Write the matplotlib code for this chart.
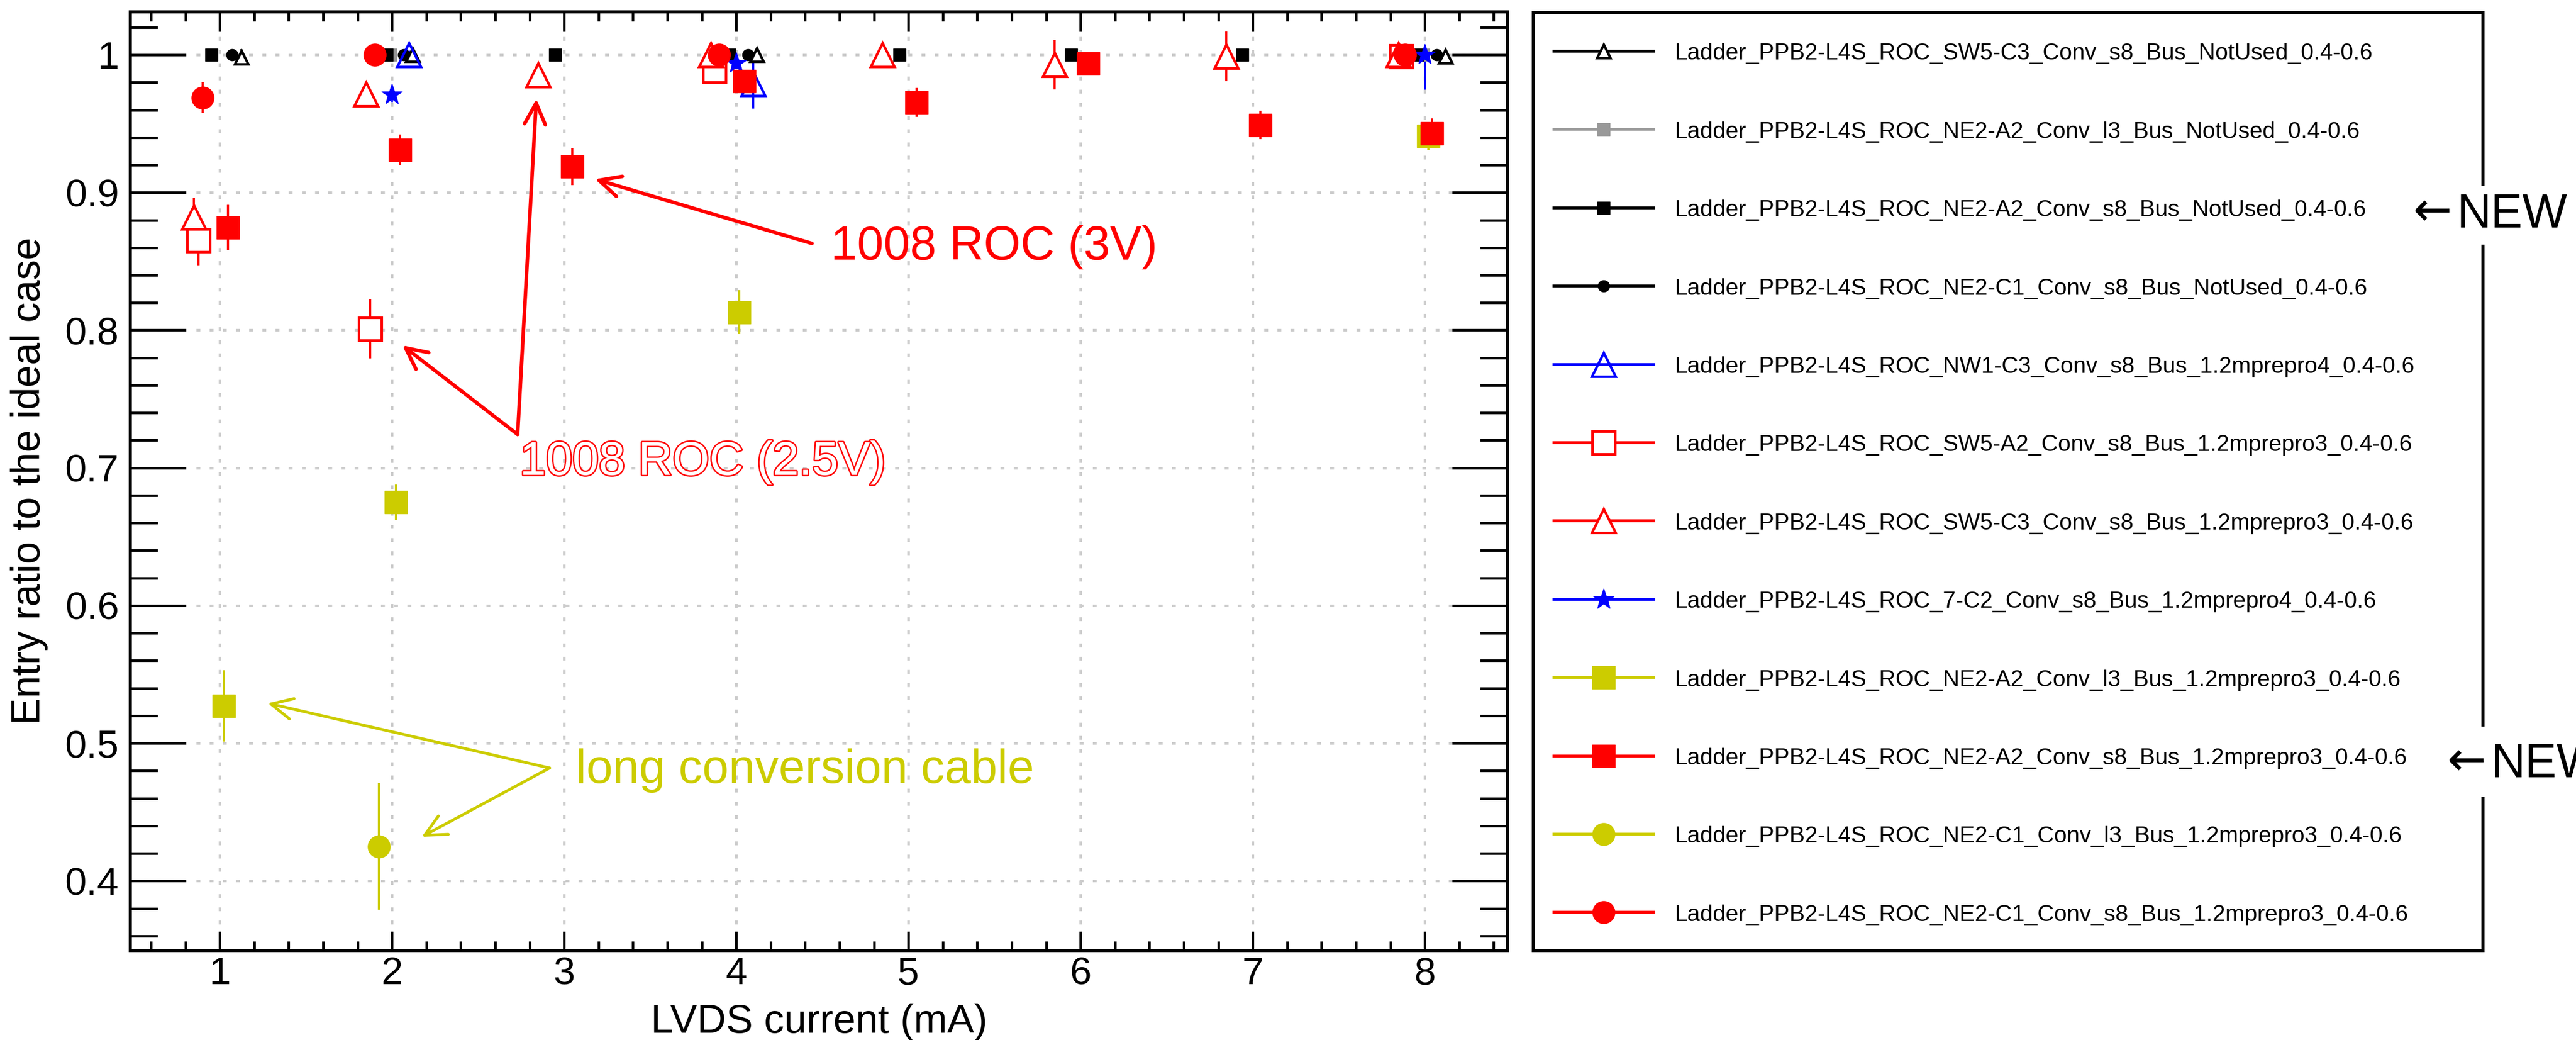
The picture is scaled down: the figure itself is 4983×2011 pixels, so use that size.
import matplotlib
matplotlib.use("Agg")
import matplotlib.pyplot as plt
import matplotlib.patheffects as pe
from matplotlib.ticker import MultipleLocator, FixedLocator, FixedFormatter

plt.rcParams['font.family'] = ['Liberation Sans', 'DejaVu Sans']

W, H = 4983, 2011

# ---- data ----
labels = [
    "Ladder_PPB2-L4S_ROC_SW5-C3_Conv_s8_Bus_NotUsed_0.4-0.6",
    "Ladder_PPB2-L4S_ROC_NE2-A2_Conv_l3_Bus_NotUsed_0.4-0.6",
    "Ladder_PPB2-L4S_ROC_NE2-A2_Conv_s8_Bus_NotUsed_0.4-0.6",
    "Ladder_PPB2-L4S_ROC_NE2-C1_Conv_s8_Bus_NotUsed_0.4-0.6",
    "Ladder_PPB2-L4S_ROC_NW1-C3_Conv_s8_Bus_1.2mprepro4_0.4-0.6",
    "Ladder_PPB2-L4S_ROC_SW5-A2_Conv_s8_Bus_1.2mprepro3_0.4-0.6",
    "Ladder_PPB2-L4S_ROC_SW5-C3_Conv_s8_Bus_1.2mprepro3_0.4-0.6",
    "Ladder_PPB2-L4S_ROC_7-C2_Conv_s8_Bus_1.2mprepro4_0.4-0.6",
    "Ladder_PPB2-L4S_ROC_NE2-A2_Conv_l3_Bus_1.2mprepro3_0.4-0.6",
    "Ladder_PPB2-L4S_ROC_NE2-A2_Conv_s8_Bus_1.2mprepro3_0.4-0.6",
    "Ladder_PPB2-L4S_ROC_NE2-C1_Conv_l3_Bus_1.2mprepro3_0.4-0.6",
    "Ladder_PPB2-L4S_ROC_NE2-C1_Conv_s8_Bus_1.2mprepro3_0.4-0.6",
]

x_sw5c3_nu = [1.126, 2.12, 4.12, 8.12]
y_sw5c3_nu = [0.998, 1.0, 1.0, 0.999]
e_sw5c3_nu = [0.006, 0.004, 0.005, 0.005]

x_ne2a2_l3_nu = [1.99, 7.99]
y_ne2a2_l3_nu = [1.0, 1.0]
e_ne2a2_l3_nu = [0.003, 0.003]

x_ne2a2_s8_nu = [0.95, 1.968, 2.948, 3.96, 4.948, 5.946, 6.94, 7.957]
y_ne2a2_s8_nu = [1.0, 1.0, 1.0, 1.0, 1.0, 1.0, 1.0, 1.0]
e_ne2a2_s8_nu = [0.004, 0.003, 0.004, 0.003, 0.003, 0.003, 0.003, 0.003]

x_ne2c1_s8_nu = [1.072, 2.07, 4.068, 8.069]
y_ne2c1_s8_nu = [1.0, 1.0, 1.0, 1.0]
e_ne2c1_s8_nu = [0.004, 0.004, 0.004, 0.004]

x_nw1c3 = [2.10, 4.098]
y_nw1c3 = [1.0, 0.979]
e_nw1c3 = [0.003, 0.018]

x_sw5a2 = [0.876, 1.873, 3.874, 7.865]
y_sw5a2 = [0.865, 0.801, 0.9885, 0.999]
e_sw5a2 = [0.018, 0.0215, 0.006, 0.004]

x_sw5c3 = [0.85, 1.85, 2.85, 3.853, 4.848, 5.848, 6.847, 7.846]
y_sw5c3 = [0.882, 0.9715, 0.9853, 1.0, 1.0, 0.993, 0.999, 1.0]
e_sw5c3 = [0.014, 0.005, 0.005, 0.004, 0.004, 0.018, 0.018, 0.004]

x_7c2 = [2.0, 4.0, 8.0]
y_7c2 = [0.971, 0.994, 1.0]
elo_7c2 = [0.005, 0.004, 0.025]
ehi_7c2 = [0.005, 0.004, 0.0]

x_ne2a2_l3 = [1.025, 2.023, 4.018, 8.02]
y_ne2a2_l3 = [0.527, 0.675, 0.813, 0.941]
e_ne2a2_l3 = [0.026, 0.013, 0.016, 0.010]

x_ne2a2_s8 = [1.049, 2.048, 3.048, 4.047, 5.048, 6.044, 7.044, 8.043]
y_ne2a2_s8 = [0.8745, 0.931, 0.919, 0.981, 0.9656, 0.9937, 0.949, 0.943]
e_ne2a2_s8 = [0.0165, 0.011, 0.0135, 0.005, 0.0105, 0.004, 0.0103, 0.011]

x_ne2c1_l3 = [1.924]
y_ne2c1_l3 = [0.425]
e_ne2c1_l3 = [0.046]

x_ne2c1_s8 = [0.90, 1.90, 3.90, 7.886]
y_ne2c1_s8 = [0.969, 1.0, 1.0, 1.0]
e_ne2c1_s8 = [0.011, 0.004, 0.004, 0.004]

xticks = [1, 2, 3, 4, 5, 6, 7, 8]
xtick_labels = ["1", "2", "3", "4", "5", "6", "7", "8"]
yticks = [0.4, 0.5, 0.6, 0.7, 0.8, 0.9, 1.0]
ytick_labels = ["0.4", "0.5", "0.6", "0.7", "0.8", "0.9", "1"]

RED = "#ff0000"
BLUE = "#0000ff"
YEL = "#cccc00"
GRAY = "#999999"

# (x, y, [lo, hi], color, marker, size, face, mew, elw)
series = [
    (x_sw5c3_nu, y_sw5c3_nu, [e_sw5c3_nu, e_sw5c3_nu], "black", "^", 19, "white", 3.5, 3),
    (x_ne2a2_l3_nu, y_ne2a2_l3_nu, [e_ne2a2_l3_nu, e_ne2a2_l3_nu], GRAY, "s", 17, GRAY, 1, 3),
    (x_ne2a2_s8_nu, y_ne2a2_s8_nu, [e_ne2a2_s8_nu, e_ne2a2_s8_nu], "black", "s", 17, "black", 1, 3),
    (x_ne2c1_s8_nu, y_ne2c1_s8_nu, [e_ne2c1_s8_nu, e_ne2c1_s8_nu], "black", "o", 16, "black", 1, 3),
    (x_nw1c3, y_nw1c3, [e_nw1c3, e_nw1c3], BLUE, "^", 33, "none", 3.5, 3),
    (x_sw5a2, y_sw5a2, [e_sw5a2, e_sw5a2], RED, "s", 32, "white", 3.5, 3),
    (x_sw5c3, y_sw5c3, [e_sw5c3, e_sw5c3], RED, "^", 33, "white", 3.5, 3),
    (x_7c2, y_7c2, [elo_7c2, ehi_7c2], BLUE, "*", 30, BLUE, 1, 2.5),
    (x_ne2a2_l3, y_ne2a2_l3, [e_ne2a2_l3, e_ne2a2_l3], YEL, "s", 31, YEL, 1, 3),
    (x_ne2a2_s8, y_ne2a2_s8, [e_ne2a2_s8, e_ne2a2_s8], RED, "s", 31, RED, 1, 3),
    (x_ne2c1_l3, y_ne2c1_l3, [e_ne2c1_l3, e_ne2c1_l3], YEL, "o", 31, YEL, 1, 3),
    (x_ne2c1_s8, y_ne2c1_s8, [e_ne2c1_s8, e_ne2c1_s8], RED, "o", 31, RED, 1, 3),
]

fig = plt.figure(figsize=(W / 100, H / 100), dpi=100)
fig.patch.set_facecolor("white")

ax = fig.add_axes([252 / W, 1 - 1838 / H, (2916 - 252) / W, (1838 - 23) / H])
ax.set_xlim(0.48, 8.48)
ax.set_ylim(0.3494, 1.0312)

for x, y, err, c, m, ms, fc, mew, elw in series:
    ax.errorbar(x, y, yerr=err, fmt="none", ecolor=c, elinewidth=elw, capsize=0, zorder=2)
    ax.plot(x, y, linestyle="none", marker=m, markersize=ms, color=c,
            markerfacecolor=fc, markeredgecolor=c, markeredgewidth=mew, zorder=3)

ax.set_axisbelow(True)
ax.grid(True, which="major", color="#cccccc", lw=3.6, linestyle=(0, (1.5, 3.6)))

ax.xaxis.set_major_locator(FixedLocator(xticks))
ax.xaxis.set_major_formatter(FixedFormatter(xtick_labels))
ax.yaxis.set_major_locator(FixedLocator(yticks))
ax.yaxis.set_major_formatter(FixedFormatter(ytick_labels))
ax.xaxis.set_minor_locator(MultipleLocator(0.2))
ax.yaxis.set_minor_locator(MultipleLocator(0.02))
ax.tick_params(which="both", direction="in", top=True, right=True, width=3.5, labelsize=54)
ax.tick_params(axis="x", which="major", length=27, pad=8)
ax.tick_params(axis="x", which="minor", length=13)
ax.tick_params(axis="y", which="major", length=77, pad=16)
ax.tick_params(axis="y", which="minor", length=38)
for s in ax.spines.values():
    s.set_linewidth(4.3)

fig.text(1585 / W, 1 - 1997 / H, "LVDS current (mA)", fontsize=56, ha="center", va="baseline")
fig.text(57 / W, 1 - 930 / H, "Entry ratio to the ideal case", fontsize=56,
         rotation=90, ha="center", va="center")

# annotations
aw = dict(arrowstyle="->,head_length=0.45,head_width=0.22", color=RED, lw=5, shrinkA=0, shrinkB=0)
ax.annotate("", xy=(3.18, 0.9097), xytext=(4.44, 0.863), arrowprops=aw, fontsize=66)
ax.text(4.55, 0.8514, "1008 ROC (3V)", color=RED, fontsize=66, va="baseline", zorder=5)

ax.annotate("", xy=(2.839, 0.968), xytext=(2.73, 0.7243), arrowprops=aw, fontsize=66)
ax.annotate("", xy=(2.06, 0.789), xytext=(2.73, 0.7243), arrowprops=aw, fontsize=66)
ax.text(2.742, 0.6949, "1008 ROC (2.5V)", color="white", fontsize=66, va="baseline", zorder=5,
        path_effects=[pe.withStroke(linewidth=4, foreground=RED)])

ayw = dict(arrowstyle="->,head_length=0.45,head_width=0.22", color=YEL, lw=4, shrinkA=0, shrinkB=0)
ax.annotate("", xy=(1.279, 0.529), xytext=(2.916, 0.482), arrowprops=ayw, fontsize=66)
ax.annotate("", xy=(2.173, 0.432), xytext=(2.916, 0.482), arrowprops=ayw, fontsize=66)
ax.text(3.069, 0.4711, "long conversion cable", color=YEL, fontsize=66, va="baseline", zorder=5)

# legend box
lg = fig.add_axes([2966 / W, 1 - 1838 / H, (4803 - 2966) / W, (1838 - 24) / H])
lg.set_xlim(2966, 4803)
lg.set_ylim(1838, 24)
lg.set_xticks([])
lg.set_yticks([])
for s in lg.spines.values():
    s.set_linewidth(4.3)
for i, (x, y, err, c, m, ms, fc, mew, elw) in enumerate(series):
    yc = 99 + i * 151.4
    lg.plot([3006, 3199], [yc, yc], color=c, lw=4)
    lg.plot([3102], [yc], marker=m, markersize=ms, color=c, markerfacecolor=fc,
            markeredgecolor=c, markeredgewidth=mew)
    lg.text(3239, yc + 16.5, labels[i], fontsize=32, va="baseline")

# "<- NEW" marks, drawn over the legend frame
box = dict(boxstyle="square,pad=0.25", facecolor="white", edgecolor="none")
for ax_px, base_px in [(4668, 440), (4734, 1503)]:
    fig.text(ax_px / W, 1 - (base_px - 4) / H, "\u2190", fontsize=66, va="baseline",
             family=["DejaVu Sans"], bbox=box, zorder=6)
    fig.text((ax_px + 84) / W, 1 - base_px / H, "NEW", fontsize=66, va="baseline",
             bbox=dict(boxstyle="square,pad=0.15", facecolor="white", edgecolor="none"), zorder=6)

fig.savefig("out.png", dpi=100, facecolor="white")
